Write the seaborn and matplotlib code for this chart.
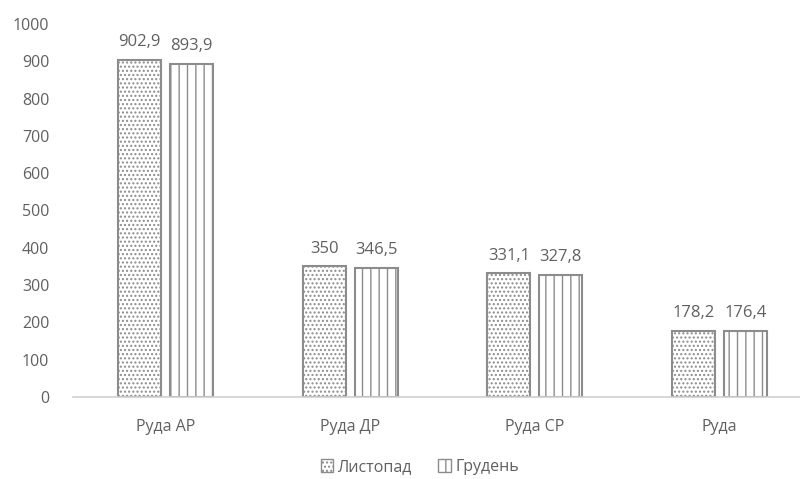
import matplotlib
matplotlib.use("Agg")
import matplotlib.pyplot as plt
import seaborn as sns
import pandas as pd
from matplotlib.patches import Patch

categories = ["Руда АР", "Руда ДР", "Руда СР", "Руда"]
listopad = [902.9, 350.0, 331.1, 178.2]
hruden = [893.9, 346.5, 327.8, 176.4]
series = ["Листопад", "Грудень"]
yticks = [0, 100, 200, 300, 400, 500, 600, 700, 800, 900, 1000]

df = pd.DataFrame({
    "cat": categories * 2,
    "val": listopad + hruden,
    "series": [series[0]] * 4 + [series[1]] * 4,
})

sns.set_theme(style="white")
plt.rcParams['font.family'] = ['Open Sans', 'DejaVu Sans']
plt.rcParams['hatch.color'] = '#3a3a3a'
plt.rcParams['hatch.linewidth'] = 1.0

TXT = "#606060"
fig = plt.figure(figsize=(8.0, 4.79), dpi=100)
ax = fig.add_axes([73/800, 1 - 397/479, (812 - 73)/800, (397 - 24)/479])

sns.barplot(data=df, x="cat", y="val", hue="series", order=categories,
            hue_order=series, palette=["white", "white"], width=0.563,
            gap=0.17, edgecolor="#8c8c8c", linewidth=1.5, ax=ax, legend=False)

hatches = ["....", "||"]
for i, cont in enumerate(ax.containers):
    for bar in cont:
        bar.set_hatch(hatches[i])
    labels = [("%g" % v).replace(".", ",") for v in cont.datavalues]
    ax.bar_label(cont, labels=labels, padding=7, fontsize=12, color=TXT)

ax.set_ylim(0, 1000)
ax.set_xlim(-0.5, 3.5)
ax.set_yticks(yticks)
ax.set_yticklabels([str(t) for t in yticks], fontsize=11.5, color=TXT)
ax.tick_params(axis='x', labelsize=11.5, colors=TXT, pad=16, length=0)
ax.tick_params(axis='y', pad=17, length=0)
for lbl in ax.get_xticklabels():
    lbl.set_color(TXT)
ax.set_xlabel("")
ax.set_ylabel("")
for s in ["top", "right", "left"]:
    ax.spines[s].set_visible(False)
ax.spines["bottom"].set_color("#d0d0d0")
ax.spines["bottom"].set_linewidth(1.2)

handles = [Patch(facecolor="white", edgecolor="#8c8c8c", hatch=h, label=s)
           for h, s in zip(hatches, series)]
fig.legend(handles=handles, loc="center", bbox_to_anchor=(420/800, 1 - 467/479),
           ncol=2, frameon=False, fontsize=11.5, labelcolor=TXT,
           handlelength=0.8, handleheight=0.8, handletextpad=0.3, columnspacing=1.6)

fig.savefig("out.png", dpi=100)
